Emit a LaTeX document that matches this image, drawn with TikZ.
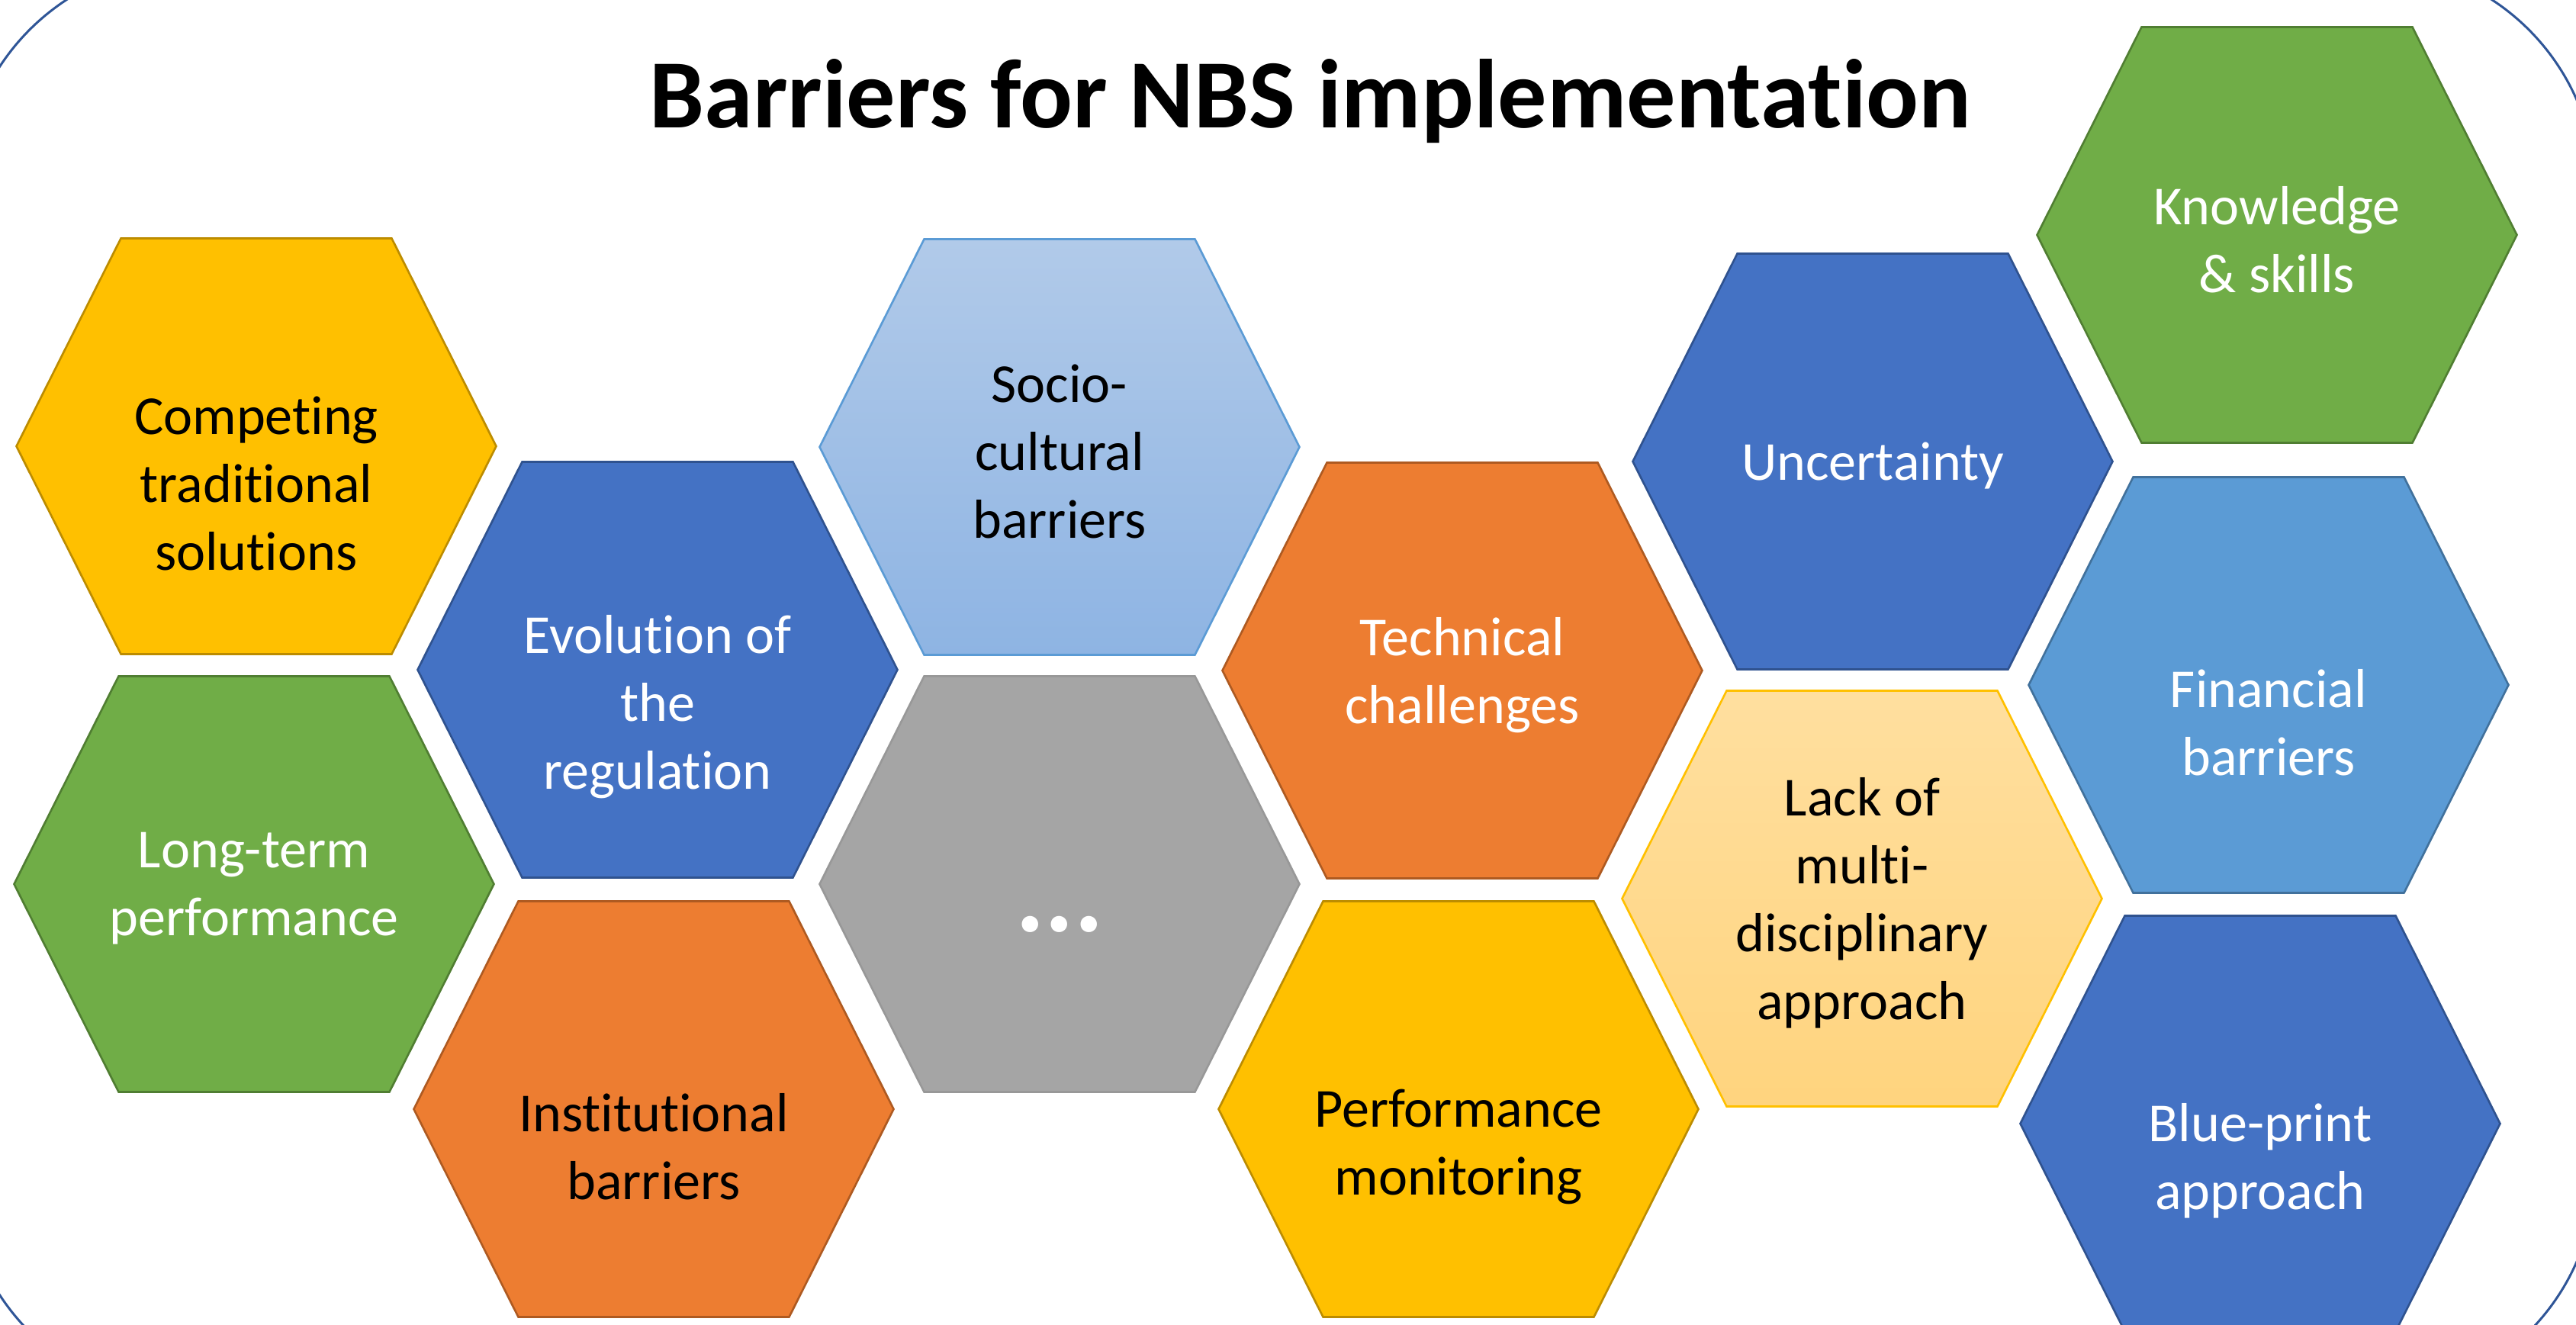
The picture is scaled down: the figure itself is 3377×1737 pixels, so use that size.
\documentclass[tikz,border=0pt]{standalone}
\usepackage{fontspec}
\setmainfont{Carlito}[Ligatures=NoCommon]
\usepackage{tikz}
\usetikzlibrary{positioning}
\usepackage{xcolor}

\definecolor{hxYel}{HTML}{FFC000}
\definecolor{hxYelE}{HTML}{BC8C00}
\definecolor{hxGrn}{HTML}{70AD47}
\definecolor{hxGrnE}{HTML}{507E32}
\definecolor{hxBlu}{HTML}{4472C4}
\definecolor{hxBluE}{HTML}{2F528F}
\definecolor{hxOrg}{HTML}{ED7D31}
\definecolor{hxOrgE}{HTML}{AE5A21}
\definecolor{hxGry}{HTML}{A5A5A5}
\definecolor{hxGryE}{HTML}{989898}
\definecolor{hxFin}{HTML}{5B9BD5}
\definecolor{hxFinE}{HTML}{41719C}
\definecolor{hxSkyT}{HTML}{B1CAE9}
\definecolor{hxSkyB}{HTML}{8EB4E3}
\definecolor{hxPalT}{HTML}{FFDF9F}
\definecolor{hxPalB}{HTML}{FFD47E}
\definecolor{frameBlu}{HTML}{2F5597}

% one cell: name, x, y, cell style, text style, text
\newcommand{\hexcell}[6]{%
  \begin{scope}[shift={(#2,#3)}]
    \draw[hexa,#4] (-314.5,0) -- (-177.5,-272.5) -- (177.5,-272.5) -- (314.5,0)
      -- (177.5,272.5) -- (-177.5,272.5) -- cycle;
    \node[txt,#5] (#1) at (0,0) {#6};
  \end{scope}}

\begin{document}
\begin{tikzpicture}[x=0.01cm,y=-0.01cm,
    hexa/.style={line width=0.75pt,line join=miter},
    yel/.style={fill=hxYel,draw=hxYelE},
    grn/.style={fill=hxGrn,draw=hxGrnE},
    blu/.style={fill=hxBlu,draw=hxBluE},
    org/.style={fill=hxOrg,draw=hxOrgE},
    gry/.style={fill=hxGry,draw=hxGryE},
    fin/.style={fill=hxFin,draw=hxFinE},
    sky/.style={top color=hxSkyT,bottom color=hxSkyB,draw=hxFin},
    pale/.style={top color=hxPalT,bottom color=hxPalB,draw=hxYel},
    txt/.style={align=center,inner sep=0pt,yshift=-0.06cm,font=\fontsize{20.5}{25.3}\selectfont},
    low/.style={yshift=-0.43cm},
    dotsfont/.style={font=\fontsize{41}{49}\selectfont\bfseries,yshift=-0.47cm}]
  \path[fill=white,use as bounding box] (0,0) rectangle (3377,1737);
  \draw[frameBlu,line width=0.85pt,rounded corners=3cm] (-49,-49) rectangle (3403,1834);

  \node[font=\fontsize{36.5}{43}\selectfont\bfseries,anchor=base] (title) at (1718,168)
    {Barriers for NBS implementation};

  \hexcell{compet}{336}{585}{yel}{black,low}{Competing\\traditional\\solutions}
  \hexcell{longterm}{333}{1159}{grn}{white}{Long-term\\performance}
  \hexcell{evol}{862}{878}{blu}{white,low}{Evolution of\\the\\regulation}
  \hexcell{instit}{857}{1454}{org}{black,low}{Institutional\\barriers}
  \hexcell{socio}{1389}{586}{sky}{black}{Socio-\\cultural\\barriers}
  \hexcell{more}{1389}{1159}{gry}{white,dotsfont}{...}
  \hexcell{techn}{1917}{879}{org}{white}{Technical\\challenges}
  \hexcell{perfmon}{1912}{1454}{yel}{black,low}{Performance\\monitoring}
  \hexcell{uncert}{2455}{605}{blu}{white}{Uncertainty}
  \hexcell{multi}{2441}{1178}{pale}{black}{Lack of\\multi-\\disciplinary\\approach}
  \hexcell{knowl}{2985}{308}{grn}{white}{Knowledge\\\& skills}
  \hexcell{finan}{2974}{898}{fin}{white,low}{Financial\\barriers}
  \hexcell{blueprint}{2963}{1473}{blu}{white,low}{Blue-print\\approach}
\end{tikzpicture}
\end{document}
